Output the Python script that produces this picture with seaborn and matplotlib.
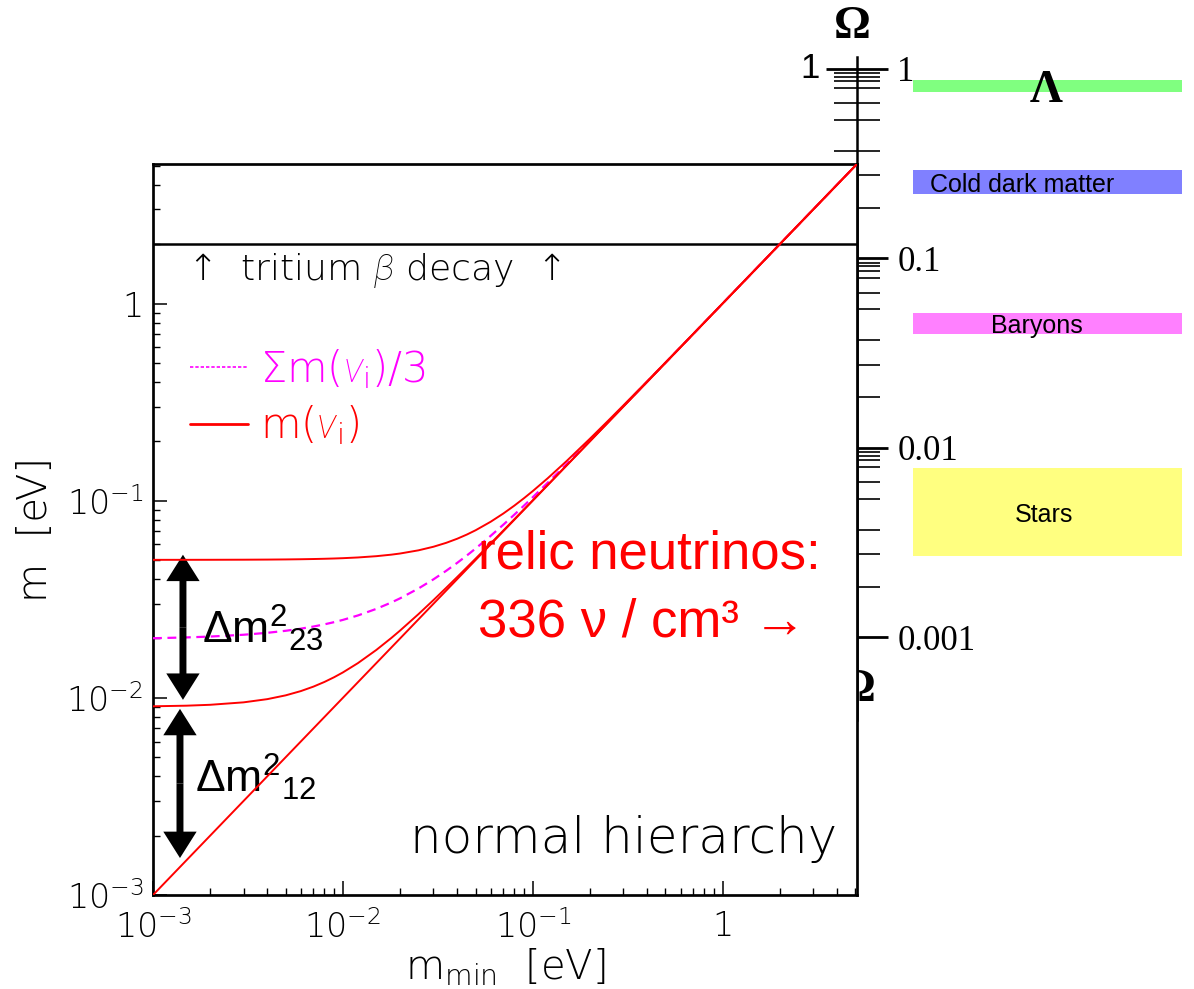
import matplotlib
matplotlib.use("Agg")
import matplotlib.pyplot as plt
import numpy as np
import pandas as pd
import seaborn as sns
from matplotlib.lines import Line2D
from matplotlib.ticker import LogLocator, NullFormatter

# ---------------------------------------------------------------------------
# Neutrino mass spectrum, normal hierarchy  (masses in eV)
# ---------------------------------------------------------------------------
m_min = [0.001, 0.0015, 0.002, 0.003, 0.004, 0.005, 0.006, 0.007, 0.008,
         0.009, 0.01, 0.012, 0.015, 0.018, 0.02, 0.025, 0.03, 0.035, 0.04,
         0.045, 0.05, 0.06, 0.07, 0.08, 0.09, 0.1, 0.12, 0.15, 0.2, 0.25,
         0.3, 0.4, 0.5, 0.7, 1.0, 2.0, 5.1]
m_nu1 = [0.001, 0.0015, 0.002, 0.003, 0.004, 0.005, 0.006, 0.007, 0.008,
         0.009, 0.01, 0.012, 0.015, 0.018, 0.02, 0.025, 0.03, 0.035, 0.04,
         0.045, 0.05, 0.06, 0.07, 0.08, 0.09, 0.1, 0.12, 0.15, 0.2, 0.25,
         0.3, 0.4, 0.5, 0.7, 1.0, 2.0, 5.1]
m_nu2 = [0.00906, 0.009124, 0.00922, 0.009487, 0.009849, 0.010296, 0.010817,
         0.011402, 0.012042, 0.012728, 0.013454, 0.015, 0.017493, 0.020125,
         0.021932, 0.026571, 0.031321, 0.036139, 0.041, 0.045891, 0.050804,
         0.060671, 0.070576, 0.080505, 0.09045, 0.100404, 0.120337, 0.15027,
         0.2002, 0.25016, 0.30014, 0.4001, 0.50008, 0.70006, 1.0, 2.0, 5.1]
m_nu3 = [0.05011, 0.050122, 0.05014, 0.05019, 0.050259, 0.050349, 0.050458,
         0.050587, 0.050735, 0.050902, 0.051088, 0.051517, 0.052297, 0.053235,
         0.053944, 0.055991, 0.058395, 0.061115, 0.064109, 0.067342, 0.070781,
         0.078166, 0.086081, 0.094393, 0.103005, 0.111848, 0.130038, 0.158145,
         0.20618, 0.254971, 0.304155, 0.403126, 0.502504, 0.701791, 1.001254,
         2.000627, 5.1]
m_sum3 = [0.020057, 0.020249, 0.020453, 0.020892, 0.021369, 0.021882, 0.022425,
          0.022996, 0.023592, 0.02421, 0.024847, 0.026172, 0.028263, 0.030453,
          0.031959, 0.035854, 0.039905, 0.044085, 0.04837, 0.052744, 0.057195,
          0.066279, 0.075552, 0.084966, 0.094485, 0.104084, 0.123458, 0.152805,
          0.202127, 0.25171, 0.301432, 0.401075, 0.500861, 0.700617, 1.000418,
          2.000209, 5.1]

tritium_limit = 2.0

mass_ticks = [1e-3, 1e-2, 1e-1, 1.0]
mass_tick_labels = [r"$\mathdefault{10^{-3}}$", r"$\mathdefault{10^{-2}}$",
                    r"$\mathdefault{10^{-1}}$", "1"]

# Cosmological density parameters
omega_names = ["Λ", "Cold dark matter", "Baryons", "Stars"]
omega_low = [0.756, 0.218, 0.0398, 0.00269]
omega_high = [0.875, 0.293, 0.0515, 0.00779]
omega_colors = ["#80ff80", "#8080ff", "#ff80ff", "#ffff80"]

omega_major = [1.0, 0.1, 0.01, 0.001]
omega_major_labels = ["1", "0.1", "0.01", "0.001"]
omega_minor_steps = [0.95, 0.91, 0.86, 0.79, 0.66, 0.54, 0.37, 0.275, 0.185]

# ---------------------------------------------------------------------------
sns.set_style("ticks")
plt.rcParams["font.family"] = ["DejaVu Sans"]
plt.rcParams["mathtext.fontset"] = "dejavusans"
# "custom" math font set: upright parts in Liberation Sans, thin italic Greek
plt.rcParams["mathtext.rm"] = "Liberation Sans"
plt.rcParams["mathtext.it"] = "Roboto:italic:light"
plt.rcParams["mathtext.bf"] = "Liberation Sans:bold"
for key in ("text.color", "axes.labelcolor", "xtick.color", "ytick.color",
            "axes.edgecolor"):
    plt.rcParams[key] = "black"
plt.rcParams["axes.facecolor"] = "white"
THIN = "light"

W, H = 1194, 989
fig = plt.figure(figsize=(W / 100, H / 100), dpi=100)
fig.patch.set_facecolor("white")


def box(x0, y0, x1, y1):
    """pixel box (top-left origin) -> figure-fraction rectangle"""
    return [x0 / W, 1 - y1 / H, (x1 - x0) / W, (y1 - y0) / H]


ax = fig.add_axes(box(153, 164, 857, 895))
ax_om = fig.add_axes(box(856, 57, 857, 720))
ax_band = fig.add_axes(box(913, 57, 1182, 720))
ax.set_zorder(3)
ax_om.set_zorder(1)
ax_band.set_zorder(0)

# --- main mass plot ---------------------------------------------------------
n = len(m_min)
states = pd.DataFrame({
    "m_min": m_min * 3,
    "mass": m_nu1 + m_nu2 + m_nu3,
    "state": ["nu1"] * n + ["nu2"] * n + ["nu3"] * n,
})
average = pd.DataFrame({"m_min": m_min, "mass": m_sum3})

ax.set_xscale("log")
ax.set_yscale("log")
sns.lineplot(data=states, x="m_min", y="mass", units="state", estimator=None,
             color="#ff0000", lw=1.4, sort=False, legend=False, ax=ax, zorder=4)
sns.lineplot(data=average, x="m_min", y="mass", color="#ff00ff", lw=1.6,
             linestyle=(0, (4, 2.5)), legend=False, ax=ax, zorder=3)

ax.axhline(tritium_limit, color="black", lw=1.8, zorder=2)

ax.set_xlim(1e-3, 5.1)
ax.set_ylim(1e-3, 5.1)
for axis in (ax.xaxis, ax.yaxis):
    axis.set_minor_locator(LogLocator(base=10, subs=np.arange(2, 10)))
    axis.set_minor_formatter(NullFormatter())
ax.set_xticks(mass_ticks, mass_tick_labels, fontweight=THIN)
ax.set_yticks(mass_ticks, mass_tick_labels, fontweight=THIN)
ax.tick_params(which="major", direction="in", length=10, width=1.1,
               labelsize=24, top=False, right=False)
ax.tick_params(axis="x", which="major", pad=11)
ax.tick_params(axis="y", which="major", pad=7)
ax.tick_params(which="minor", direction="in", length=5, width=1.0,
               top=False, right=False)
for sp in ax.spines.values():
    sp.set_linewidth(1.95)
    sp.set_color("black")

ax.set_xlabel(r"m$_{\mathdefault{min}}$  [eV]", fontsize=29, labelpad=1,
              fontweight=THIN)
ax.set_ylabel("m  [eV]", fontsize=29, labelpad=8, fontweight=THIN)

ax.text(0.048, 0.841, r"↑  tritium $\beta$ decay  ↑", transform=ax.transAxes,
        fontsize=26, va="baseline", ha="left", fontweight=THIN,
        math_fontfamily="custom")
ax.text(0.9716, 0.0575, "normal hierarchy", transform=ax.transAxes,
        fontsize=36, va="baseline", ha="right", fontweight=THIN)

handles = [Line2D([], [], color="#ff00ff", lw=1.2, linestyle=(0, (2, 1.2))),
           Line2D([], [], color="#ff0000", lw=2.0)]
labels = [r"$\mathdefault{\Sigma m(}\nu_{\mathdefault{i}}\mathdefault{)/3}$",
          r"$\mathdefault{m(}\nu_{\mathdefault{i}}\mathdefault{)}$"]
leg = ax.legend(handles, labels, loc="upper left", bbox_to_anchor=(0.0526, 0.75),
                frameon=False, prop={"size": 30, "weight": THIN},
                handlelength=1.39, handletextpad=0.3,
                labelspacing=0.3, borderpad=0, borderaxespad=0,
                labelcolor="linecolor")
for t in leg.get_texts():
    t.set_math_fontfamily("custom")

# mass-splitting arrows
arrow_kw = dict(width=5, headwidth=24, headlength=19, facecolor="black",
                edgecolor="none", shrink=0)
for x, top, bottom in [(1.438e-3, 0.0532, 0.00977), (1.387e-3, 0.00879, 0.00154)]:
    mid = np.sqrt(top * bottom)
    ax.annotate("", xy=(x, top), xytext=(x, mid), arrowprops=arrow_kw)
    ax.annotate("", xy=(x, bottom), xytext=(x, mid), arrowprops=arrow_kw)

ax.text(0.0696, 0.3447, r"$\Delta\mathrm{m}^{2}{}_{23}$", transform=ax.transAxes,
        fontsize=32, va="baseline", ha="left", math_fontfamily="custom")
ax.text(0.0597, 0.1409, r"$\Delta\mathrm{m}^{2}{}_{12}$", transform=ax.transAxes,
        fontsize=32, va="baseline", ha="left", math_fontfamily="custom")

ax.text(0.4616, 0.4473, "relic neutrinos:", transform=ax.transAxes,
        fontsize=38, color="#ff0000", family="Liberation Sans", va="baseline",
        ha="left", clip_on=False)
ax.text(0.4616, 0.353, "336 ν / cm³ →", transform=ax.transAxes,
        fontsize=38, color="#ff0000", family="Liberation Sans", va="baseline",
        ha="left", clip_on=False)

# --- Omega scale --------------------------------------------------------------
om_lim = (3.66e-4, 1.157)
for a in (ax_om, ax_band):
    a.set_yscale("log")
    a.set_ylim(*om_lim)
    a.patch.set_visible(False)

for side in ("top", "bottom", "left"):
    ax_om.spines[side].set_visible(False)
ax_om.spines["right"].set_linewidth(1.8)
ax_om.set_xticks([])
ax_om.yaxis.tick_right()
minor_vals = [d * s for d in omega_major[:3] for s in omega_minor_steps]
ax_om.set_yticks(omega_major, omega_major_labels, family="Liberation Serif")
ax_om.set_yticks(minor_vals, minor=True)
ax_om.yaxis.set_minor_formatter(NullFormatter())
ax_om.tick_params(axis="y", which="major", direction="inout", length=44,
                  width=2.0, labelsize=25, pad=7, left=False)
ax_om.tick_params(axis="y", which="minor", direction="inout", length=33,
                  width=1.2, left=False)
ax_om.text(857.5 / W, 1 - 690 / H, "Ω", transform=fig.transFigure,
           family="Liberation Serif", fontsize=33, fontweight="bold",
           ha="center", va="center", clip_on=False)

fig.text(852 / W, 1 - 27 / H, "Ω", family="Liberation Serif", fontsize=33,
         fontweight="bold", ha="center", va="center")
fig.text(810 / W, 1 - 69 / H, "1", family="Liberation Sans", fontsize=25,
         ha="center", va="center")

ax_band.set_xlim(0, 1)
ax_band.axis("off")
label_x = [0.494, 0.405, 0.461, 0.487]
for name, lo, hi, col, lx in zip(omega_names, omega_low, omega_high,
                                 omega_colors, label_x):
    ax_band.axhspan(lo, hi, color=col, lw=0)
    yc = np.sqrt(lo * hi)
    if name == "Λ":
        ax_band.text(lx, yc, name, family="Liberation Serif", fontsize=33,
                     fontweight="bold", ha="center", va="center_baseline")
    else:
        ax_band.text(lx, yc, name, family="Liberation Sans", fontsize=18,
                     ha="center", va="center_baseline")

fig.savefig("out.png", dpi=100, facecolor="white")
